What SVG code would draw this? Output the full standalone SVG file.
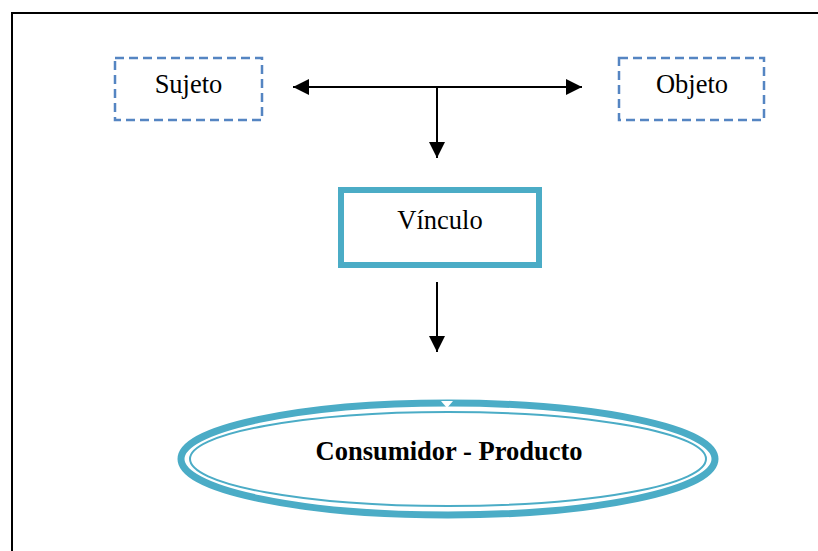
<svg xmlns="http://www.w3.org/2000/svg" width="818" height="551" viewBox="0 0 818 551">
<defs>
<style>
.dash{fill:#fff;stroke:#5585C2;stroke-width:2.5;stroke-dasharray:9,5}
.lbl{font-family:"Liberation Serif","Times New Roman",serif;font-size:26.5px;fill:#000;text-anchor:middle}
.conn{stroke:#000;stroke-width:2;fill:none}
.teal{stroke:#4BACC6;fill:#fff}
</style>
<marker id="ah" viewBox="0 0 10 10" refX="10" refY="5" markerWidth="16" markerHeight="16" markerUnits="userSpaceOnUse" orient="auto-start-reverse">
<path d="M0,0 L10,5 L0,10 z" fill="#000"/>
</marker>
</defs>
<rect width="818" height="551" fill="#fff"/>
<path d="M12,551 V13 H818" fill="none" stroke="#000" stroke-width="2"/>
<g id="sujeto">
<rect class="dash" x="115" y="58" width="147" height="62"/>
<text class="lbl" x="188.5" y="93">Sujeto</text>
</g>
<g id="objeto">
<rect class="dash" x="619" y="58" width="145" height="62"/>
<text class="lbl" x="692" y="93">Objeto</text>
</g>
<g id="vinculo">
<rect class="teal" x="341" y="190" width="198" height="75" stroke-width="6"/>
<text class="lbl" x="440" y="229">Vínculo</text>
</g>
<g id="consumidor-producto">
<ellipse class="teal" cx="448" cy="459" rx="267" ry="56" stroke-width="7"/>
<ellipse cx="448" cy="459" rx="258" ry="47" fill="none" stroke="#4BACC6" stroke-width="2"/>
<path d="M441,401 L447,408 L453,401 Z" fill="#fff"/>
<text x="449" y="460" font-family="'Liberation Serif','Times New Roman',serif" font-size="26.5" font-weight="bold" text-anchor="middle">Consumidor - Producto</text>
</g>
<g id="connectors">
<path class="conn" d="M293,87 H582" marker-start="url(#ah)" marker-end="url(#ah)"/>
<path class="conn" d="M437,87 V158" marker-end="url(#ah)"/>
<path class="conn" d="M437,282 V352" marker-end="url(#ah)"/>
</g>
</svg>
